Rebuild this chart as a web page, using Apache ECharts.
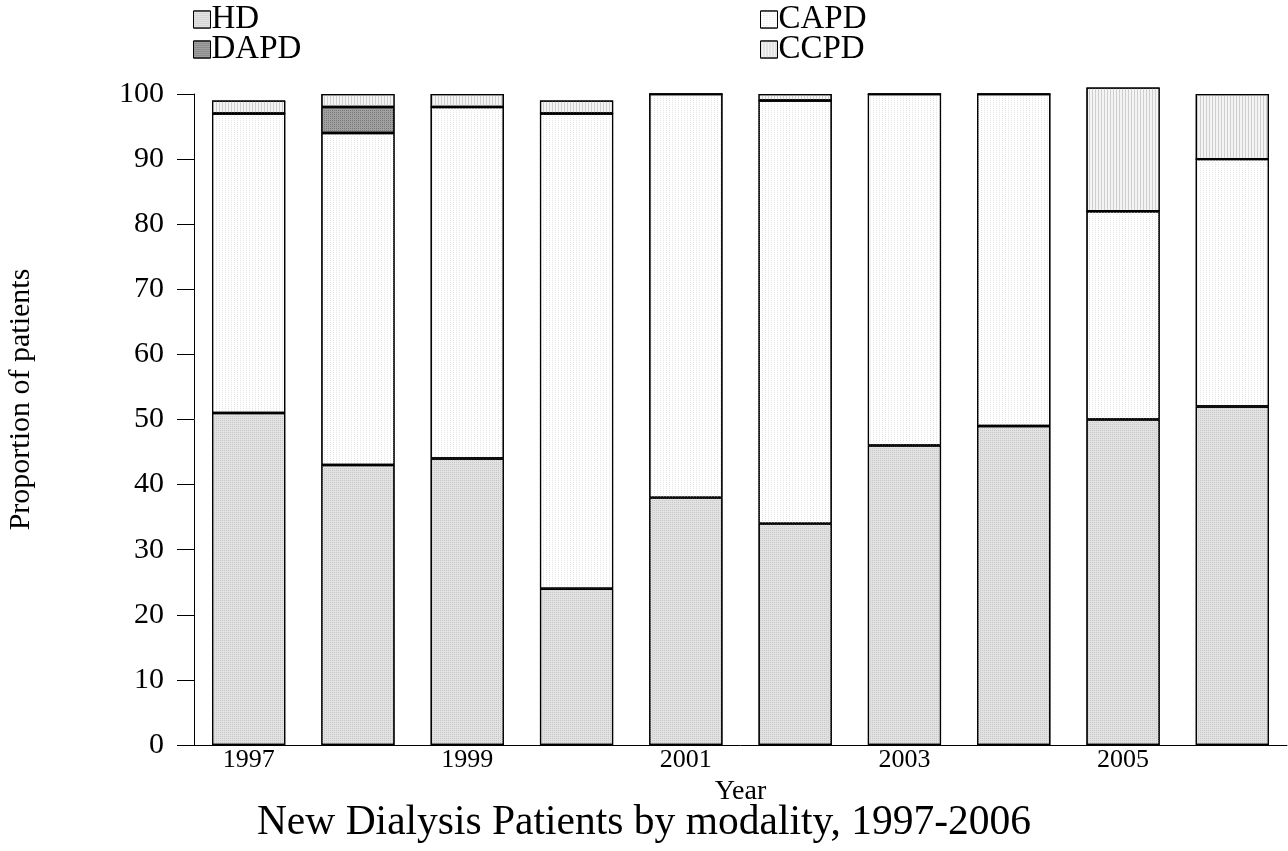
<!DOCTYPE html>
<html>
<head>
<meta charset="utf-8">
<script src="https://cdn.jsdelivr.net/npm/echarts@6/dist/echarts.min.js"></script>
<style>
  html, body { margin: 0; padding: 0; background: #fff; }
  #chart { width: 1288px; height: 851px; }
</style>
</head>
<body>
<div id="chart"></div>
<script>
const years = ['1997', '1998', '1999', '2000', '2001', '2002', '2003', '2004', '2005', '2006'];
const hd   = [51, 43, 44, 24, 38, 34, 46, 49, 50, 52];
const capd = [46, 51, 54, 73, 62, 65, 54, 51, 32, 38];
const dapd = [0, 4, 0, 0, 0, 0, 0, 0, 0, 0];
const ccpd = [2, 2, 2, 2, 0, 1, 0, 0, 19, 10];
const yTicks = [0, 10, 20, 30, 40, 50, 60, 70, 80, 90, 100];

const font = 'Liberation Serif';

const chart = echarts.init(document.getElementById('chart'));

function barSeries(name, data, color, decal) {
  return {
    name: name,
    type: 'bar',
    stack: 'total',
    data: data,
    barWidth: '67%',
    clip: false,
    itemStyle: {
      color: color,
      borderColor: '#000',
      borderWidth: 1.2,
      decal: decal
    },
    emphasis: { disabled: true }
  };
}

const legendText = { fontFamily: font, fontSize: 33, color: '#000', padding: [0, 0, 0, -4] };

const option = {
  animation: false,
  title: {
    text: 'New Dialysis Patients by modality, 1997-2006',
    left: 'center',
    top: 797,
    textStyle: { fontFamily: font, fontSize: 41.5, fontWeight: 'normal', color: '#000' }
  },
  legend: [
    {
      data: ['HD', 'DAPD'],
      orient: 'vertical',
      left: 188,
      top: -2,
      icon: 'rect',
      itemWidth: 17,
      itemHeight: 17,
      itemGap: -3,
      itemStyle: { borderColor: '#000', borderWidth: 1 },
      textStyle: legendText
    },
    {
      data: ['CAPD', 'CCPD'],
      orient: 'vertical',
      left: 755,
      top: -2,
      icon: 'rect',
      itemWidth: 17,
      itemHeight: 17,
      itemGap: -3,
      itemStyle: { borderColor: '#000', borderWidth: 1 },
      textStyle: legendText
    }
  ],
  grid: {
    left: 194,
    right: 1,
    top: 94,
    bottom: 106,
    outerBoundsMode: 'none'
  },
  xAxis: {
    type: 'category',
    data: years,
    name: 'Year',
    nameLocation: 'middle',
    nameGap: 33,
    nameTextStyle: { fontFamily: font, fontSize: 28, color: '#000' },
    axisLine: { lineStyle: { color: '#000', width: 1 } },
    axisTick: { show: false },
    axisLabel: {
      interval: 1,
      margin: 2,
      fontFamily: font,
      fontSize: 26,
      color: '#000'
    }
  },
  yAxis: {
    type: 'value',
    min: yTicks[0],
    max: yTicks[yTicks.length - 1],
    interval: yTicks[1] - yTicks[0],
    name: 'Proportion of patients',
    nameLocation: 'middle',
    nameGap: 158,
    nameTextStyle: { fontFamily: font, fontSize: 30, color: '#000', padding: [0, 0, 0, 40] },
    axisLine: { show: true, lineStyle: { color: '#000', width: 1 } },
    axisTick: { show: true, length: 17, lineStyle: { color: '#000' } },
    splitLine: { show: false },
    axisLabel: {
      margin: 30,
      fontFamily: font,
      fontSize: 30,
      color: '#000'
    }
  },
  series: [
    barSeries('HD', hd, '#e2e2e2',
      { symbol: 'rect', symbolSize: 1, dashArrayX: [1, 1], dashArrayY: [1, 1], color: '#c8c8c8' }),
    barSeries('CAPD', capd, '#ffffff',
      { symbol: 'rect', symbolSize: 1, dashArrayX: [1, 2], dashArrayY: [1, 1], color: '#e4e4e4' }),
    barSeries('DAPD', dapd, '#a0a0a0',
      { symbol: 'rect', symbolSize: 1, dashArrayX: [1, 1], dashArrayY: [1, 1], color: '#7a7a7a' }),
    barSeries('CCPD', ccpd, '#f4f4f4',
      { symbol: 'rect', symbolSize: 1, dashArrayX: [1, 2], dashArrayY: [1, 0], color: '#cfcfcf' })
  ]
};

chart.setOption(option);
</script>
</body>
</html>
